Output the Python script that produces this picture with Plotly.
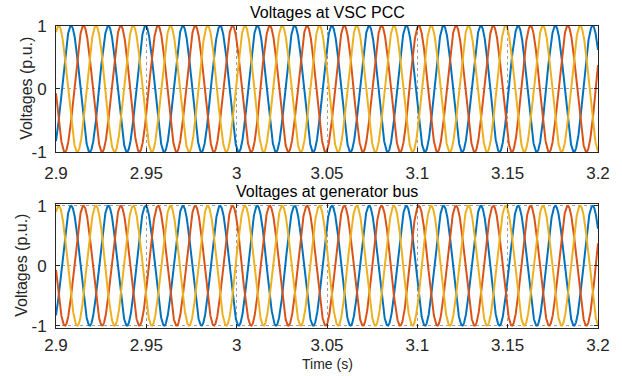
import numpy as np
import plotly.graph_objects as go

# Values
t_start, t_end = 2.9, 3.2
freq_hz = 48.5                 # from peak spacing (~0.0206 s)
t_peak_a = 2.9496              # time of a blue (phase a) peak
amplitude = [1.0, 1.0, 1.0]    # p.u.
phase_shift_deg = [0, -120, 120]   # phase a, b, c
phase_names = ["Va", "Vb", "Vc"]
phase_colors = ["#0072BD", "#D95319", "#EDB120"]

x_tick_vals = [2.9, 2.95, 3.0, 3.05, 3.1, 3.15, 3.2]
x_tick_text = ["2.9", "2.95", "3", "3.05", "3.1", "3.15", "3.2"]
y_tick_vals = [-1, 0, 1]
y_tick_text = ["-1", "0", "1"]

titles = ["Voltages at VSC PCC", "Voltages at generator bus"]
y_label = "Voltages (p.u.)"
x_label = "Time (s)"

t = np.linspace(t_start, t_end, 4000)

fig = go.Figure()
FONT = "Liberation Sans, Arial, sans-serif"
TXT = "#262626"

for k, (xa, ya) in enumerate([("x", "y"), ("x2", "y2")]):
    for amp, ph, name, col in zip(amplitude, phase_shift_deg, phase_names, phase_colors):
        v = amp * np.cos(2 * np.pi * freq_hz * (t - t_peak_a) + np.deg2rad(ph))
        fig.add_trace(go.Scatter(x=t, y=v, mode="lines", name=name, xaxis=xa, yaxis=ya,
                                 line=dict(color=col, width=2), showlegend=False))

W, H = 622, 376
left, right = 56, 598
top_box = (25.7, 152.0)
bot_box = (204.0, 327.5)

def ydom(b):
    return [(H - b[1]) / H, (H - b[0]) / H]

axis_common = dict(
    showline=True, linecolor=TXT, linewidth=1, mirror="ticks",
    ticks="inside", ticklen=4, tickcolor=TXT, automargin=False,
    showgrid=True, gridcolor="rgba(80,80,80,0.55)", griddash="dot", gridwidth=1,
    zeroline=False, tickfont=dict(family=FONT, size=17, color=TXT),
)

fig.update_layout(
    width=W, height=H, autosize=False, margin=dict(l=0, r=0, t=0, b=0, pad=0),
    paper_bgcolor="white", plot_bgcolor="white",
    xaxis=dict(domain=[left / W, right / W], range=[t_start, t_end], anchor="y",
               tickvals=x_tick_vals, ticktext=x_tick_text, ticklabelstandoff=6,
               **axis_common),
    yaxis=dict(domain=ydom(top_box), range=[-1, 1], anchor="x",
               tickvals=y_tick_vals, ticktext=y_tick_text, ticklabelstandoff=5,
               **axis_common),
    xaxis2=dict(domain=[left / W, right / W], range=[t_start, t_end], anchor="y2",
                tickvals=x_tick_vals, ticktext=x_tick_text, ticklabelstandoff=2,
                **axis_common),
    yaxis2=dict(domain=ydom(bot_box), range=[-1.03, 1.03], anchor="x2",
                tickvals=y_tick_vals, ticktext=y_tick_text, ticklabelstandoff=5,
                **axis_common),
)

def ann(text, xpx, ypx, size, angle=0, color=TXT):
    fig.add_annotation(text=text, x=xpx / W, y=1 - ypx / H, xref="paper", yref="paper",
                       xanchor="center", yanchor="middle", textangle=angle,
                       showarrow=False, font=dict(family=FONT, size=size, color=color))

ann(titles[0], (left + right) / 2, 13, 16, color="black")
ann(titles[1], (left + right) / 2, 192, 16, color="black")
ann(y_label, 27, (top_box[0] + top_box[1]) / 2, 16, angle=-90)
ann(y_label, 22, (bot_box[0] + bot_box[1]) / 2, 16, angle=-90)
ann(x_label, (left + right) / 2, 364, 14)

fig.write_html("out.html", config={"displayModeBar": False},
               post_script="document.body.style.margin='0px';")
